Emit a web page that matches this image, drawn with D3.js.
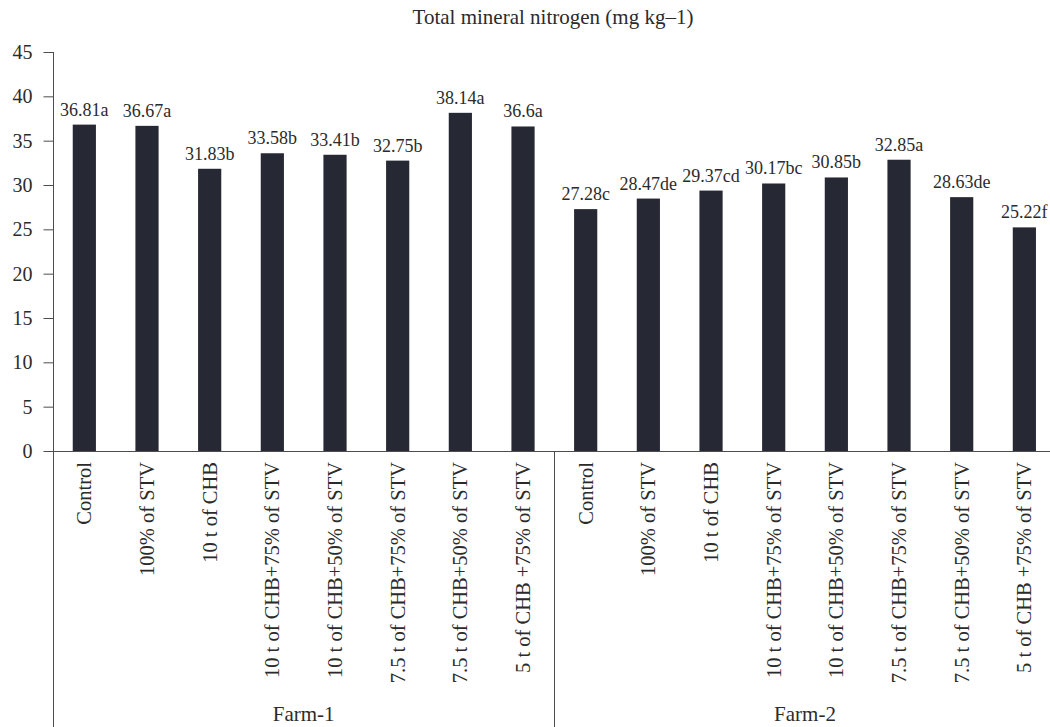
<!DOCTYPE html>
<html>
<head>
<meta charset="utf-8">
<script src="https://cdn.jsdelivr.net/npm/d3@7"></script>
<style>
  html, body { margin: 0; padding: 0; background: #fff; }
  svg { display: block; }
  text { font-family: "Liberation Serif", "Times New Roman", serif; fill: #2b2b2b; }
</style>
</head>
<body>
<svg id="chart" width="1050" height="727"></svg>
<script>
// Treatments applied on each farm
const treatments = [
  "Control",
  "100% of STV",
  "10 t of CHB",
  "10 t of CHB+75% of STV",
  "10 t of CHB+50% of STV",
  "7.5 t of CHB+75% of STV",
  "7.5 t of CHB+50% of STV",
  "5 t of CHB +75% of STV"
];
const farms = ["Farm-1", "Farm-2"];

// Total mineral nitrogen (mg kg–1) with significance letters
const farm1Values = [36.81, 36.67, 31.83, 33.58, 33.41, 32.75, 38.14, 36.6];
const farm1Letters = ["a", "a", "b", "b", "b", "b", "a", "a"];
const farm2Values = [27.28, 28.47, 29.37, 30.17, 30.85, 32.85, 28.63, 25.22];
const farm2Letters = ["c", "de", "cd", "bc", "b", "a", "de", "f"];

const yTicks = [0, 5, 10, 15, 20, 25, 30, 35, 40, 45];

const rows = [];
[[farm1Values, farm1Letters], [farm2Values, farm2Letters]].forEach(([vals, lets], fi) => {
  treatments.forEach((t, i) => {
    rows.push({ key: fi + "-" + i, farm: farms[fi], label: t, value: vals[i], letter: lets[i] });
  });
});

const svg = d3.select("#chart");
const axisColor = "#4d4d4d";
const barColor = "#262833";

const x = d3.scaleBand()
  .domain(rows.map(d => d.key))
  .range([53, 1055.7])
  .paddingInner(0.63)
  .paddingOuter(0.315);

const y = d3.scaleLinear().domain([0, 45]).range([451, 52]);

// Title
svg.append("text")
  .attr("x", 553).attr("y", 24)
  .attr("text-anchor", "middle")
  .style("font-size", "21px")
  .text("Total mineral nitrogen (mg kg–1)");

// Bars
svg.append("g").selectAll("rect")
  .data(rows).join("rect")
  .attr("x", d => x(d.key))
  .attr("width", x.bandwidth())
  .attr("y", d => y(d.value))
  .attr("height", d => y(0) - y(d.value))
  .attr("fill", barColor);

// Value labels
svg.append("g").selectAll("text")
  .data(rows).join("text")
  .attr("x", d => x(d.key) + x.bandwidth() / 2)
  .attr("y", d => y(d.value) - 9)
  .attr("text-anchor", "middle")
  .style("font-size", "18px")
  .text(d => d.value + d.letter);

// Y axis
const yAxis = svg.append("g")
  .attr("transform", "translate(53.5,0)")
  .call(d3.axisLeft(y).tickValues(yTicks).tickSize(10).tickPadding(11).tickSizeOuter(0));
yAxis.select(".domain").remove();
yAxis.selectAll(".tick line").attr("stroke", axisColor);
yAxis.selectAll(".tick text")
  .style("font-size", "20px")
  .style("font-family", "Liberation Serif, serif")
  .attr("fill", "#2b2b2b");
svg.append("line")
  .attr("x1", 53.5).attr("x2", 53.5)
  .attr("y1", y(45)).attr("y2", 727)
  .attr("stroke", axisColor);

// Baseline
svg.append("line")
  .attr("x1", 53).attr("x2", 1050)
  .attr("y1", y(0) + 0.5).attr("y2", y(0) + 0.5)
  .attr("stroke", axisColor);

// Divider between farms
const step = x.step();
const dividerX = x("1-0") - (step - x.bandwidth()) / 2;
svg.append("line")
  .attr("x1", Math.round(dividerX) + 0.5).attr("x2", Math.round(dividerX) + 0.5)
  .attr("y1", y(0)).attr("y2", 727)
  .attr("stroke", axisColor);

// Rotated category labels
svg.append("g").selectAll("text")
  .data(rows).join("text")
  .attr("transform", d => `translate(${x(d.key) + x.bandwidth() / 2 + 7},462) rotate(-90)`)
  .attr("text-anchor", "end")
  .style("font-size", "20.5px")
  .text(d => d.label);

// Farm group labels
farms.forEach((f, fi) => {
  const first = x(fi + "-0");
  const last = x(fi + "-7") + x.bandwidth();
  svg.append("text")
    .attr("x", (first + last) / 2)
    .attr("y", 721)
    .attr("text-anchor", "middle")
    .style("font-size", "21px")
    .text(f);
});
</script>
</body>
</html>
